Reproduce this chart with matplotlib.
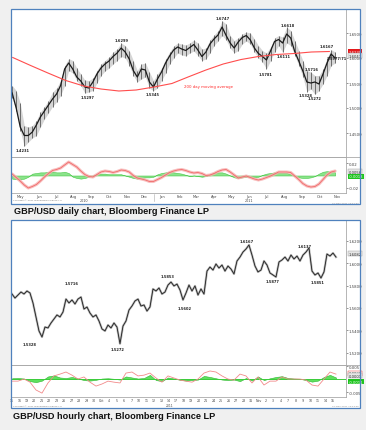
import numpy as np
import pandas as pd
import matplotlib
matplotlib.use('Agg')
import matplotlib.pyplot as plt
from matplotlib.patches import Rectangle
from matplotlib.lines import Line2D
from matplotlib.transforms import blended_transform_factory

W, H = 366, 431

# ---------------- daily chart (weekly read-off of the bars) ----------------
daily_weeks = pd.date_range('2010-04-30', periods=81, freq='7D')
daily_close = [1.530, 1.500, 1.462, 1.445, 1.445, 1.452, 1.466, 1.482, 1.494, 1.506,
               1.518, 1.528, 1.545, 1.578, 1.590, 1.578, 1.562, 1.554, 1.542, 1.540,
               1.552, 1.568, 1.580, 1.588, 1.594, 1.603, 1.610, 1.620, 1.612, 1.598,
               1.575, 1.562, 1.578, 1.576, 1.552, 1.542, 1.558, 1.572, 1.590, 1.604,
               1.616, 1.622, 1.618, 1.615, 1.621, 1.627, 1.616, 1.603, 1.612, 1.628,
               1.638, 1.646, 1.662, 1.645, 1.630, 1.620, 1.632, 1.641, 1.645, 1.636,
               1.620, 1.609, 1.603, 1.596, 1.614, 1.633, 1.637, 1.630, 1.648, 1.640,
               1.613, 1.594, 1.574, 1.552, 1.550, 1.552, 1.548, 1.568, 1.590, 1.608,
               1.600]
daily_high = [1.545, 1.535, 1.510, 1.465, 1.462, 1.465, 1.475, 1.492, 1.503, 1.515,
              1.532, 1.540, 1.555, 1.585, 1.599, 1.595, 1.580, 1.568, 1.556, 1.555,
              1.560, 1.575, 1.588, 1.595, 1.602, 1.612, 1.618, 1.6299, 1.625, 1.615,
              1.595, 1.575, 1.588, 1.590, 1.572, 1.555, 1.568, 1.580, 1.598, 1.612,
              1.624, 1.630, 1.628, 1.626, 1.630, 1.636, 1.630, 1.618, 1.620, 1.636,
              1.646, 1.655, 1.6747, 1.668, 1.645, 1.635, 1.640, 1.648, 1.652, 1.650,
              1.638, 1.625, 1.615, 1.610, 1.622, 1.640, 1.645, 1.642, 1.6618, 1.655,
              1.635, 1.615, 1.595, 1.575, 1.5716, 1.565, 1.565, 1.578, 1.600, 1.6167,
              1.612]
daily_low = [1.520, 1.495, 1.455, 1.4231, 1.432, 1.440, 1.445, 1.462, 1.478, 1.490,
             1.503, 1.512, 1.525, 1.545, 1.575, 1.570, 1.555, 1.545, 1.5297, 1.532,
             1.535, 1.550, 1.565, 1.574, 1.580, 1.588, 1.595, 1.603, 1.600, 1.585,
             1.565, 1.552, 1.558, 1.562, 1.540, 1.5345, 1.540, 1.555, 1.570, 1.588,
             1.600, 1.610, 1.606, 1.604, 1.610, 1.614, 1.605, 1.595, 1.598, 1.610,
             1.625, 1.634, 1.645, 1.636, 1.620, 1.610, 1.615, 1.628, 1.634, 1.628,
             1.612, 1.600, 1.592, 1.5781, 1.595, 1.612, 1.625, 1.6111, 1.630, 1.625,
             1.605, 1.585, 1.562, 1.5328, 1.538, 1.5272, 1.535, 1.548, 1.565, 1.585,
             1.590]

# 200 day moving average (monthly read-off)
ma_dates = pd.date_range('2010-05-01', '2011-11-01', freq='MS')
ma_values = [1.601, 1.585, 1.570, 1.555, 1.544, 1.538, 1.534, 1.536, 1.542, 1.549,
             1.562, 1.576, 1.588, 1.597, 1.603, 1.607, 1.609, 1.612, 1.613]

# oscillator panel
osc_red = [0.0024, -0.0032, -0.0088, -0.0152, -0.0200, -0.0176, -0.0144, -0.0088, -0.0024, 0.0032,
           0.0080, 0.0096, 0.0120, 0.0168, 0.0216, 0.0176, 0.0136, 0.0072, 0.0016, -0.0016,
           -0.0024, 0.0016, 0.0056, 0.0072, 0.0064, 0.0048, 0.0064, 0.0088, 0.0080, 0.0056,
           0.0000, -0.0040, -0.0056, -0.0072, -0.0096, -0.0096, -0.0064, -0.0032, 0.0008, 0.0048,
           0.0072, 0.0088, 0.0096, 0.0080, 0.0056, 0.0040, 0.0048, 0.0032, 0.0000, 0.0008,
           0.0032, 0.0064, 0.0088, 0.0096, 0.0056, 0.0008, -0.0040, -0.0024, -0.0008, -0.0032,
           -0.0056, -0.0072, -0.0056, -0.0032, -0.0008, 0.0024, 0.0056, 0.0056, 0.0056, 0.0048,
           -0.0008, -0.0064, -0.0128, -0.0168, -0.0184, -0.0176, -0.0136, -0.0064, 0.0008, 0.0056,
           0.0072]
osc_green = [-0.005, -0.006, -0.006, -0.005, -0.002, 0.003, 0.004, 0.005, 0.005, 0.006,
             0.006, 0.005, 0.005, 0.006, 0.004, -0.002, -0.004, -0.005, -0.004, -0.002,
             0.000, 0.002, 0.003, 0.003, 0.002, 0.002, 0.002, 0.002, 0.000, -0.002,
             -0.004, -0.005, -0.004, -0.003, -0.003, -0.002, 0.002, 0.004, 0.005, 0.006,
             0.005, 0.004, 0.003, 0.001, -0.001, 0.000, -0.001, -0.002, -0.001, 0.002,
             0.004, 0.005, 0.005, 0.003, 0.000, -0.003, -0.004, -0.003, -0.002, -0.002,
             -0.003, -0.002, 0.001, 0.003, 0.004, 0.005, 0.004, 0.004, 0.004, 0.002,
             -0.001, -0.003, -0.004, -0.004, -0.003, -0.001, 0.003, 0.006, 0.007, 0.006,
             0.005]

daily_ticks = [1.45, 1.50, 1.55, 1.60, 1.65]
daily_labels = [('2010-05-19', 1.4231, -2.5), ('2010-09-07', 1.5297, -2.8), ('2010-11-06', 1.6299, 2.2),
                ('2010-12-30', 1.5345, -2.3), ('2011-04-30', 1.6747, 1.9), ('2011-07-14', 1.5781, -3.3),
                ('2011-08-13', 1.6111, -2.6), ('2011-08-20', 1.6618, 1.5), ('2011-09-20', 1.5328, -2.4),
                ('2011-10-02', 1.5716, 2.3), ('2011-10-07', 1.5272, -2.6), ('2011-10-27', 1.6167, 2.6)]

# ---------------- hourly chart ----------------
hourly_close = [1.5724, 1.5688, 1.5715, 1.5742, 1.5724, 1.5751, 1.5733, 1.5644, 1.5519, 1.5394,
                1.5340, 1.5429, 1.5421, 1.5465, 1.5501, 1.5537, 1.5519, 1.5563, 1.5679, 1.5644,
                1.5671, 1.5635, 1.5679, 1.5697, 1.5590, 1.5608, 1.5554, 1.5519, 1.5537, 1.5483,
                1.5412, 1.5394, 1.5447, 1.5421, 1.5465, 1.5429, 1.5280, 1.5438, 1.5483, 1.5581,
                1.5617, 1.5662, 1.5679, 1.5617, 1.5626, 1.5572, 1.5608, 1.5769, 1.5751, 1.5778,
                1.5724, 1.5742, 1.5804, 1.5831, 1.5796, 1.5813, 1.5760, 1.5671, 1.5733, 1.5804,
                1.5751, 1.5796, 1.5715, 1.5769, 1.5724, 1.5929, 1.5965, 1.5938, 1.5992, 1.5956,
                1.5983, 1.5929, 1.5974, 1.5947, 1.5903, 1.6019, 1.6054, 1.6099, 1.6126, 1.6162,
                1.6072, 1.5974, 1.5921, 1.5938, 1.6019, 1.5983, 1.5912, 1.5894, 1.5876, 1.6010,
                1.6028, 1.6054, 1.6019, 1.6072, 1.6037, 1.6063, 1.6019, 1.6072, 1.6099, 1.6135,
                1.5929, 1.5894, 1.5912, 1.5867, 1.5921, 1.6081, 1.6063, 1.6090, 1.6054]
hourly_osc_red = [-0.0008, -0.0008, 0.0000, -0.0012, -0.0042, -0.0054, -0.0015, 0.0012, 0.0019, 0.0027,
                  0.0015, 0.0000, 0.0008, -0.0012, -0.0027, -0.0019, -0.0008, -0.0012, -0.0015, 0.0023,
                  0.0027, 0.0012, 0.0015, 0.0023, 0.0004, -0.0012, 0.0012, 0.0004, -0.0004, -0.0008,
                  -0.0012, 0.0000, 0.0023, 0.0031, 0.0027, 0.0012, 0.0000, -0.0004, 0.0019, 0.0012,
                  -0.0015, 0.0008, -0.0023, -0.0008, -0.0008, 0.0008, 0.0000, 0.0000, 0.0000, -0.0004,
                  -0.0023, -0.0027, 0.0000, 0.0027, 0.0019]
hourly_osc_green = [0.0003, 0.0004, 0.0002, -0.0008, -0.0012, -0.0006, 0.0010, 0.0014, 0.0006, 0.0004,
                    0.0008, 0.0002, -0.0004, -0.0006, -0.0003, 0.0002, 0.0003, 0.0001, -0.0002, 0.0010,
                    0.0006, 0.0002, 0.0004, 0.0016, -0.0004, -0.0008, 0.0006, 0.0002, -0.0003, -0.0006,
                    -0.0004, -0.0002, 0.0012, 0.0008, 0.0003, -0.0002, -0.0004, -0.0002, -0.0008, 0.0004,
                    -0.0006, 0.0010, -0.0004, 0.0003, 0.0008, 0.0011, 0.0004, 0.0002, 0.0001, -0.0004,
                    -0.0010, -0.0006, 0.0008, 0.0016, 0.0006]
hourly_days = ['15', '16', '19', '20', '21', '22', '23', '26', '27', '28', '29', '30', 'Oct', '4', '5',
               '6', '7', '10', '11', '12', '13', '14', '17', '18', '19', '20', '21', '24', '25', '26',
               '27', '28', '31', 'Nov', '2', '3', '4', '7', '8', '9', '10', '11', '14', '15']
hourly_ticks = [1.52, 1.54, 1.56, 1.58, 1.60, 1.62]
hourly_labels = [(6, 1.5328, -4.0), (20, 1.5716, 8.3), (35.3, 1.5272, -3.1), (51.7, 1.5853, 2.3),
                 (57.7, 1.5602, -0.5), (78.3, 1.6167, 2.4), (86.7, 1.5877, -3.2), (97.7, 1.6137, 1.3),
                 (102, 1.5851, -1.9)]

GRAY = '#a9a9a9'
TICKC = '#444444'
BLUE = '#4f81bd'


def fr(x0, y0, x1, y1):
    return [x0 / W, 1 - y1 / H, (x1 - x0) / W, (y1 - y0) / H]


def chart_box(fig, x0, y0, x1, y1):
    fig.add_artist(Rectangle((x0 / W, 1 - y1 / H), (x1 - x0) / W, (y1 - y0) / H,
                             transform=fig.transFigure, fc='white', ec='none', zorder=-5))
    fig.add_artist(Rectangle((x0 / W, 1 - y1 / H), (x1 - x0) / W, (y1 - y0) / H,
                             transform=fig.transFigure, fc='none', ec=BLUE, lw=0.9, zorder=10))


def style_axes(ax, top=False, bottom=True):
    ax.set_facecolor('none')
    ax.spines['left'].set_visible(False)
    ax.spines['top'].set_visible(top)
    ax.spines['bottom'].set_visible(bottom)
    for s in ['right', 'top', 'bottom']:
        ax.spines[s].set_color(GRAY)
        ax.spines[s].set_linewidth(0.6)
    ax.yaxis.tick_right()
    ax.tick_params(axis='y', labelsize=2.8, length=1.5, width=0.4, pad=1, colors=TICKC)
    ax.tick_params(axis='x', length=0, labelsize=2.6, pad=0.4, colors=TICKC)


def tag(ax, value, text, fc, tc='white', ec='none'):
    ax.annotate(text, xy=(1.0, value), xycoords=('axes fraction', 'data'), xytext=(2.3, 0),
                textcoords='offset points', ha='left', va='center', fontsize=2.7, color=tc,
                annotation_clip=False,
                bbox=dict(boxstyle='square,pad=0.15', fc=fc, ec=ec, lw=0.3))


fig = plt.figure(figsize=(W / 100, H / 100), dpi=100)
fig.patch.set_facecolor('#f0f0f0')

# ================= daily chart =================
chart_box(fig, 11, 9.5, 360, 205)
ax_p1 = fig.add_axes(fr(11, 9.5, 345.5, 158))
ax_o1 = fig.add_axes(fr(11, 158, 345.5, 194), sharex=ax_p1)
style_axes(ax_p1)
style_axes(ax_o1, top=True)

ax_p1.fill_between(daily_weeks, daily_low, daily_high, color='#b4b4b4', lw=0, alpha=0.55)
ax_p1.vlines(daily_weeks, daily_low, daily_high, color='#5a5a5a', lw=0.6)
ax_p1.plot(daily_weeks, daily_close, color='#1a1a1a', lw=0.9)
ax_p1.plot(ma_dates, ma_values, color='#ff4d4d', lw=0.8)
ax_p1.text(pd.Timestamp('2011-02-22'), 1.544, '200 day moving average', color='#ff2a2a',
           fontsize=2.8, ha='left', va='center')

for d, v, dy in daily_labels:
    ax_p1.annotate(f'{v:.4f}', xy=(pd.Timestamp(d), v), xytext=(0, dy), textcoords='offset points',
                   ha='center', va='center', fontsize=2.6, color='#222222', fontweight='bold')
ax_p1.annotate('1.5977/71', xy=(pd.Timestamp('2011-11-13'), 1.5977), xytext=(0, 0.8),
               textcoords='offset points', ha='center', va='center', fontsize=2.6,
               color='#222222', fontweight='bold', annotation_clip=False)

ax_p1.set_ylim(1.402, 1.699)
ax_p1.set_yticks(daily_ticks)
ax_p1.set_yticklabels([f'{t:.4f}' for t in daily_ticks])
ax_p1.tick_params(axis='x', labelbottom=False)
tag(ax_p1, 1.6130, '1.6130', '#e3191c')
tag(ax_p1, 1.6047, '1.6047', '#e6e6e6', tc='#333333', ec='#999999')

ax_o1.fill_between(daily_weeks, 0, osc_green, color='#7ee07e', lw=0.4, edgecolor='#3cc43c', alpha=0.9)
ax_o1.plot(daily_weeks, osc_red, color='#f7b0b0', lw=2.2, alpha=0.8, solid_capstyle='round')
ax_o1.plot(daily_weeks, osc_red, color='#f06a6a', lw=0.6)
ax_o1.set_ylim(-0.028, 0.0296)
ax_o1.set_yticks([0.02, -0.02])
ax_o1.set_yticklabels(['0.02', '-0.02'])
tag(ax_o1, 0.0056, '0.0056', '#e6e6e6', tc='#333333', ec='#999999')
tag(ax_o1, -0.0013, '-0.0013', '#1ec41e')

month_mid = pd.date_range('2010-05-01', '2011-11-01', freq='MS') + pd.Timedelta(days=14)
ax_o1.set_xticks(month_mid)
ax_o1.set_xticklabels([m.strftime('%b') for m in month_mid])
ax_o1.set_xlim(pd.Timestamp('2010-04-28'), pd.Timestamp('2011-11-29'))
tr = blended_transform_factory(ax_o1.transData, ax_o1.transAxes)
ax_o1.text(pd.Timestamp('2010-09-01'), -0.2, '2010', transform=tr, fontsize=2.4,
           ha='center', va='center', color=TICKC)
ax_o1.text(pd.Timestamp('2011-06-15'), -0.2, '2011', transform=tr, fontsize=2.4,
           ha='center', va='center', color=TICKC)
ax_o1.plot([pd.Timestamp('2011-01-01')] * 2, [-0.03, -0.22], transform=tr, color=GRAY,
           lw=0.4, clip_on=False)
fig.add_artist(Line2D([345.5 / W, 360 / W], [1 - 158 / H] * 2, color=GRAY, lw=0.6))
fig.text(12.5 / W, 1 - 200.5 / H, 'Copyright© 2011 Bloomberg Finance L.P.', fontsize=1.7,
         color='#777777', va='center')
fig.text(359 / W, 1 - 203.5 / H, '07-Nov-2011 10:51:30', fontsize=1.7, color='#888888',
         va='center', ha='right')
fig.text(14 / W, 1 - 212 / H, 'GBP/USD daily chart, Bloomberg Finance LP', fontsize=6.6,
         fontweight='bold', family='Liberation Sans', va='center', color='#111111')

# ================= hourly chart =================
chart_box(fig, 11, 221, 360, 408.5)
ax_p2 = fig.add_axes(fr(11, 221, 345.5, 366))
ax_o2 = fig.add_axes(fr(11, 366, 345.5, 398), sharex=ax_p2)
style_axes(ax_p2)
style_axes(ax_o2, top=True)

hx = np.arange(len(hourly_close))
ax_p2.plot(hx, hourly_close, color='#9a9a9a', lw=1.6, alpha=0.7)
ax_p2.plot(hx, hourly_close, color='#1e1e1e', lw=0.6)
for k, v, dy in hourly_labels:
    ax_p2.annotate(f'{v:.4f}', xy=(k, v), xytext=(0, dy), textcoords='offset points',
                   ha='center', va='center', fontsize=2.6, color='#222222', fontweight='bold')
ax_p2.set_ylim(1.509, 1.6385)
ax_p2.set_yticks(hourly_ticks)
ax_p2.set_yticklabels([f'{t:.4f}' for t in hourly_ticks])
ax_p2.tick_params(axis='x', labelbottom=False)
tag(ax_p2, 1.6082, '1.6082', '#e6e6e6', tc='#333333', ec='#999999')

ox = np.arange(0, len(hourly_close), 2)
ax_o2.axhline(0, color='#3ccc3c', lw=0.7)
ax_o2.fill_between(ox, 0, hourly_osc_green, color='#5fe05f', lw=0.4, edgecolor='#2fb82f')
ax_o2.plot(ox, hourly_osc_red, color='#f28a8a', lw=0.6)
ax_o2.set_ylim(-0.0069, 0.0054)
ax_o2.set_yticks([0.005, -0.005])
ax_o2.set_yticklabels(['0.005', '-0.005'])
tag(ax_o2, 0.0023, '0.0020', 'white', tc='#333333', ec='#e3191c')
tag(ax_o2, 0.0012, '0.0001', '#e6e6e6', tc='#333333', ec='#999999')
tag(ax_o2, -0.0011, '-0.0011', '#1ec41e')
ax_o2.set_xticks(np.linspace(0, 107, len(hourly_days)))
ax_o2.set_xticklabels(hourly_days)
ax_o2.tick_params(axis='x', labelsize=2.3)
ax_o2.set_xlim(-0.33, 111.17)
tr2 = blended_transform_factory(ax_o2.transData, ax_o2.transAxes)
ax_o2.text(52.7, -0.25, '2011', transform=tr2, fontsize=2.2, ha='center', va='center', color=TICKC)
fig.add_artist(Line2D([345.5 / W, 360 / W], [1 - 366 / H] * 2, color=GRAY, lw=0.6))
fig.text(12.5 / W, 1 - 406 / H, 'Copyright© 2011 Bloomberg Finance L.P.', fontsize=1.7,
         color='#777777', va='center')
fig.text(359 / W, 1 - 407 / H, '07-Nov-2011 10:53:05', fontsize=1.7, color='#888888',
         va='center', ha='right')
fig.text(13 / W, 1 - 417 / H, 'GBP/USD hourly chart, Bloomberg Finance LP', fontsize=6.6,
         fontweight='bold', family='Liberation Sans', va='center', color='#111111')

fig.savefig('out.png', dpi=100, facecolor=fig.get_facecolor())
